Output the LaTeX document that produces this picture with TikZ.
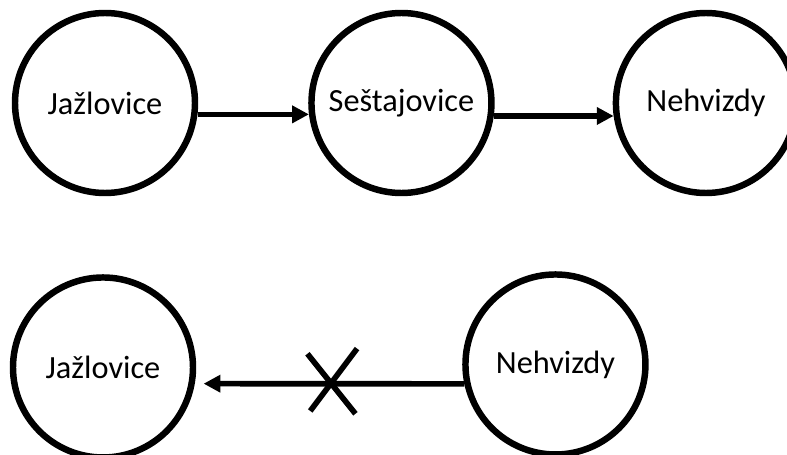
\documentclass[tikz,border=0pt]{standalone}
\usepackage{fontspec}
\setmainfont{Carlito}
\usetikzlibrary{positioning,arrows.meta,calc}

\begin{document}
\begin{tikzpicture}[
      >={Triangle[length=4.2mm,width=4.2mm]},
      auto
    ]
    
    \tikzstyle{town} = [circle, minimum size=4.5cm, inner sep=0pt, line width=4.6pt, draw=black, font=\fontsize{23}{27}\selectfont]
    
    \tikzstyle{link} = [line width=4pt,->]
    
    \useasboundingbox (0,0) rectangle (19.675,-11.375);
    
    \node [town] (jazTop) at (2.625,-2.575) {Jažlovice};
    \node [town] (sesTop) [right=2.75cm of jazTop] {Seštajovice};
    \node [town] (nehTop) [right=2.95cm of sesTop] {Nehvizdy};
    
    \node [town] (jazBot) [below=1.95cm of jazTop, xshift=-0.05cm] {Jažlovice};
    \node [town] (nehBot) [right=6.65cm of jazBot, yshift=0.075cm] {Nehvizdy};
    
    \draw [link] (jazTop.-7) -- (sesTop.187);
    \draw [link] (sesTop.-8) -- (nehTop.188);
    \draw [link, shorten >=0.22cm] (nehBot.192) -- (jazBot.-10) coordinate[pos=0.49] (cut);
    
    % the cross on the blocked road
    \draw [line width=4pt] ($(cut)+(-0.62,0.75)$) -- ($(cut)+(0.58,-0.75)$);
    \draw [line width=4pt] ($(cut)+(0.62,0.88)$) -- ($(cut)+(-0.55,-0.68)$);

\end{tikzpicture}
\end{document}
